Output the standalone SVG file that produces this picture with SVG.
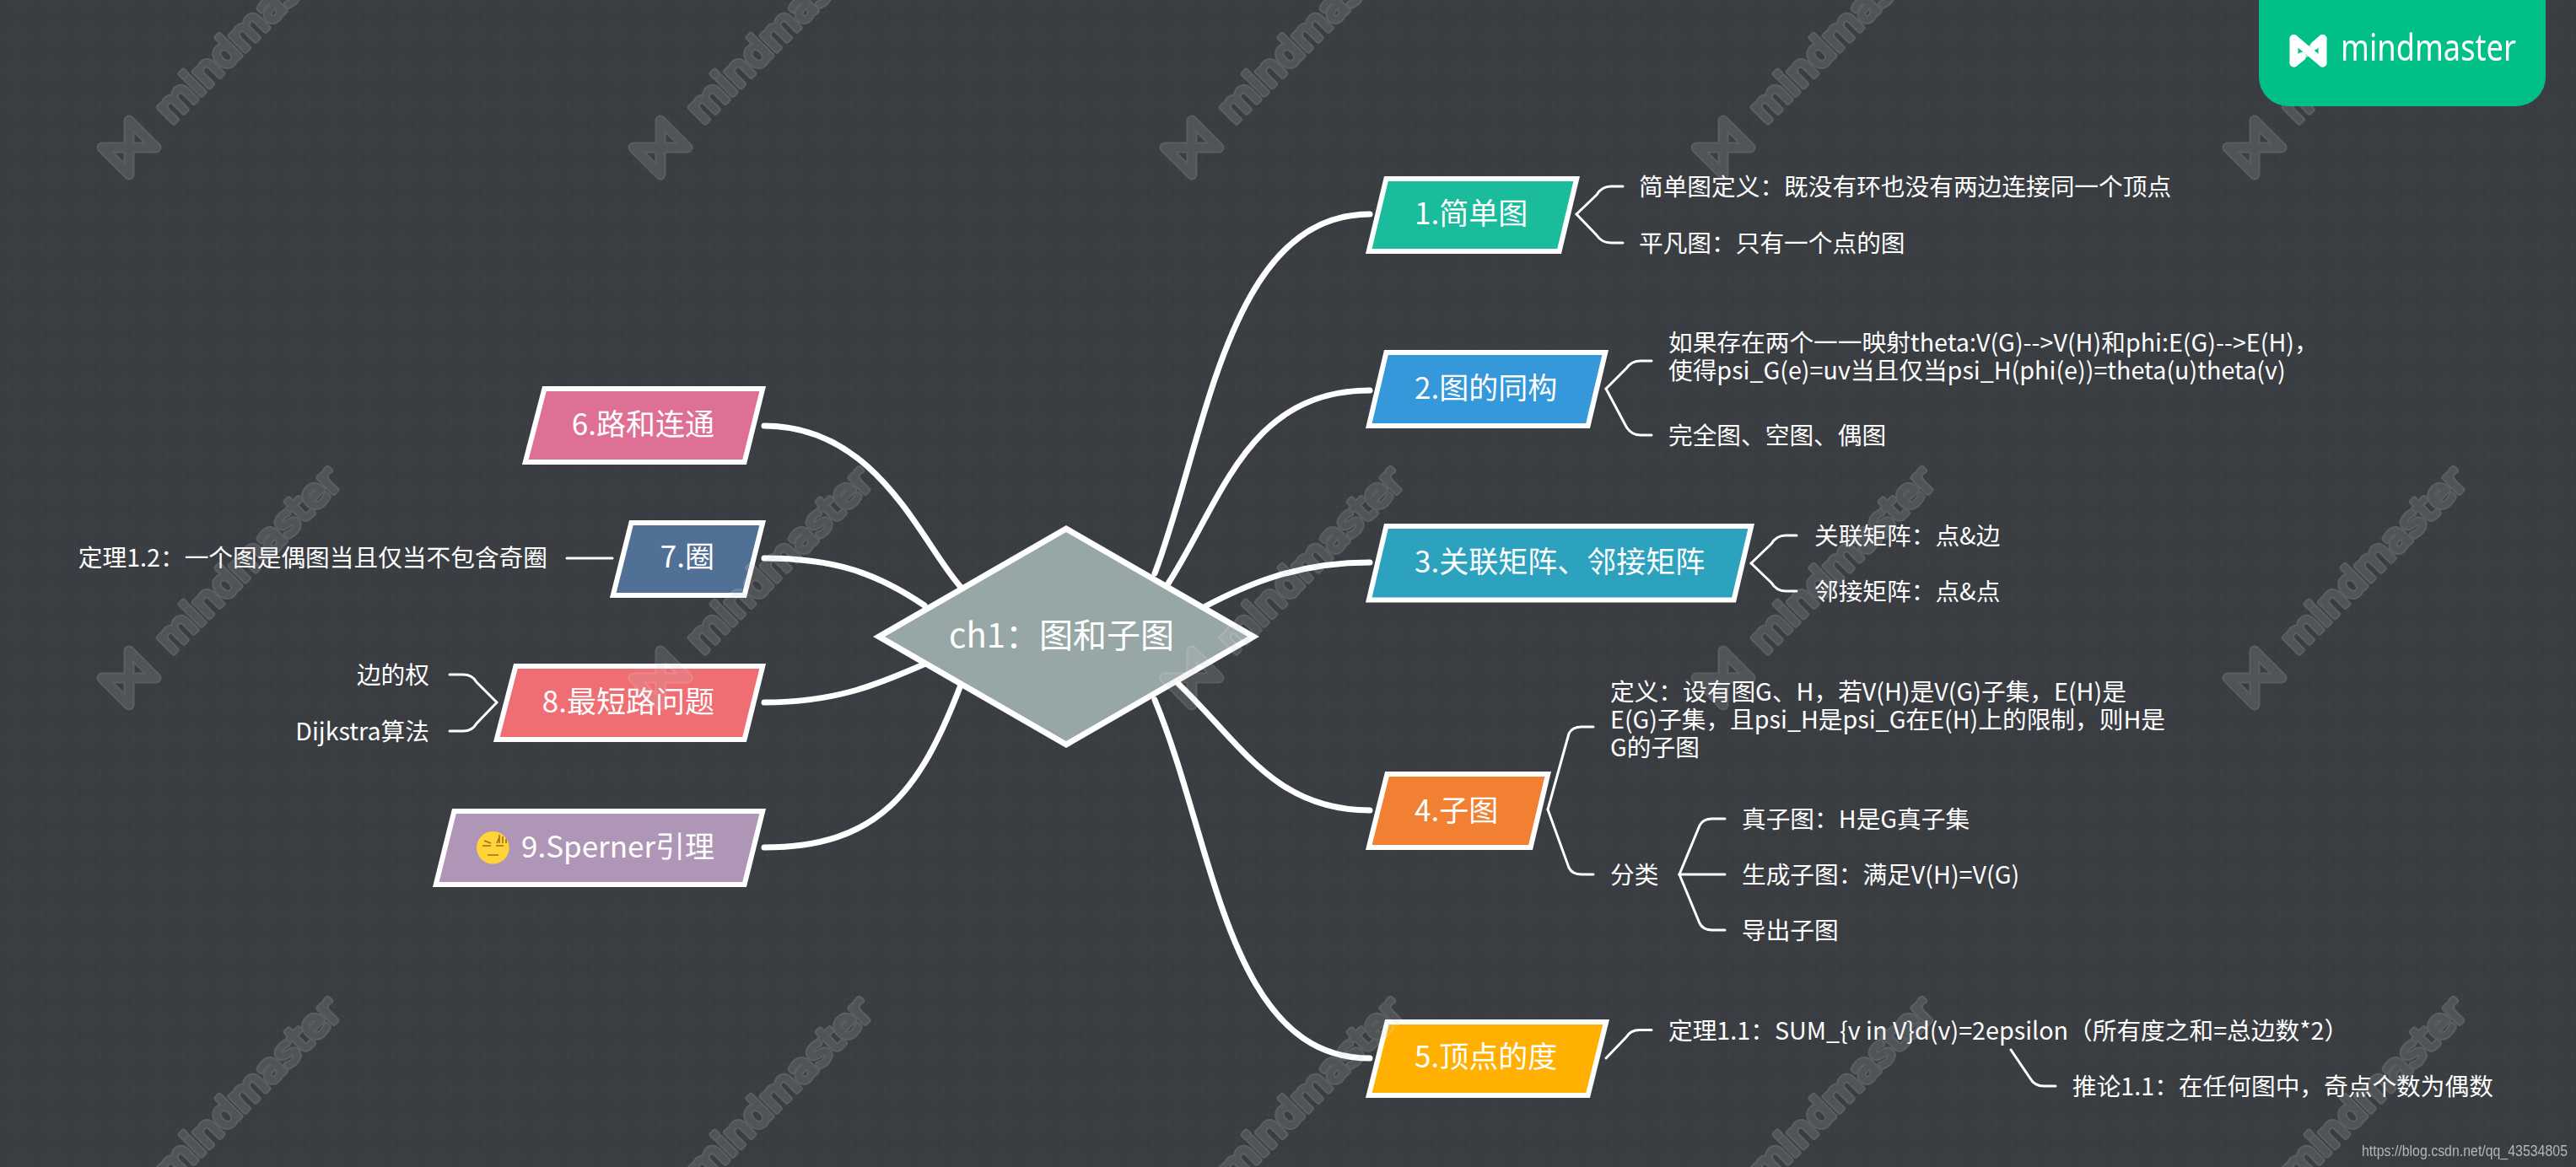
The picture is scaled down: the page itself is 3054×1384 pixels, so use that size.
<svg xmlns="http://www.w3.org/2000/svg" xmlns:xlink="http://www.w3.org/1999/xlink" width="3054" height="1384" viewBox="0 0 3054 1384">
<style>
text{font-family:"Noto Sans CJK SC","Noto Sans",sans-serif;fill:#fff;dominant-baseline:central}
.main{font-size:35px}
.sub{font-size:28.700px}
.end{text-anchor:end}
.nb{stroke:#fff;stroke-width:6;stroke-linejoin:miter}
.cm{fill:none;stroke:#fff;stroke-width:7;stroke-linecap:round}
.ct{fill:none;stroke:#fff;stroke-width:3;stroke-linecap:round;stroke-linejoin:round}
.wt{font-family:"DejaVu Sans",sans-serif;font-size:46px;dominant-baseline:alphabetic;stroke-linejoin:round}
.wto{fill:#fff;stroke:#fff;stroke-width:7}
.wti{fill:#c0c0c0;stroke:#c0c0c0;stroke-width:3}
.wml{fill:none;stroke:#c0c0c0;stroke-width:9;stroke-linejoin:round}
.wmo{fill:none;stroke:#fff;stroke-width:13;stroke-linejoin:round}
.em{stroke:#a9651f;stroke-width:1.600;fill:none}
</style>
<defs>
<pattern id="bgp" width="14" height="14" patternUnits="userSpaceOnUse" patternTransform="rotate(45)">
<rect width="14" height="14" fill="#393d41"/>
<rect width="7" height="7" fill="#3b3f43"/>
<rect x="7" y="7" width="7" height="7" fill="#3b3f43"/>
</pattern>
<g id="wm" opacity="0.17">
<path class="wmo" d="M-32,0L32,0L0,-32L0,32Z"/>
<path class="wml" d="M-32,0L32,0L0,-32L0,32Z"/>
<text class="wt wto" transform="translate(50,-27) rotate(-45)" textLength="288" lengthAdjust="spacingAndGlyphs">mindmaster</text>
<text class="wt wti" transform="translate(50,-27) rotate(-45)" textLength="288" lengthAdjust="spacingAndGlyphs">mindmaster</text>
</g>
</defs>
<rect id="background" width="3054" height="1384" fill="url(#bgp)"/>
<g id="connectors">
<path class="cm" d="M1369,680C1430,520 1455,254 1624,254"/>
<path class="cm" d="M1385,692C1450,590 1480,463 1624,463"/>
<path class="cm" d="M1429,719C1475,695 1535,667 1624,667"/>
<path class="cm" d="M1397,811C1470,880 1510,961 1624,961"/>
<path class="cm" d="M1369,830C1440,1000 1455,1255 1624,1255"/>
<path class="cm" d="M1138,695C1090,640 1040,505 906,505"/>
<path class="cm" d="M1096,718C1040,680 990,662 906,662"/>
<path class="cm" d="M1095,788C1040,812 990,833 906,833"/>
<path class="cm" d="M1138,815C1090,940 1040,1005 906,1005"/>
<path class="ct" d="M1869,254L1893,231Q1899,221 1910,221L1924,221"/>
<path class="ct" d="M1869,254L1893,279Q1899,288 1910,288L1924,288"/>
<path class="ct" d="M1904,461L1928,437Q1934,428 1945,428L1958,428"/>
<path class="ct" d="M1904,461L1928,506Q1934,516 1945,516L1958,516"/>
<path class="ct" d="M2076,668L2100,645Q2106,635 2117,635L2130,635"/>
<path class="ct" d="M2076,668L2100,691Q2106,701 2117,701L2130,701"/>
<path class="ct" d="M1835,960L1860,870Q1864,862 1875,862L1889,862"/>
<path class="ct" d="M1835,960L1860,1029Q1864,1037 1875,1037L1889,1037"/>
<path class="ct" d="M1991,1037L2015,979Q2019,971 2030,971L2045,971"/>
<path class="ct" d="M1991,1037L2045,1037"/>
<path class="ct" d="M1991,1037L2015,1095Q2019,1103 2030,1103L2045,1103"/>
<path class="ct" d="M1904,1255L1928,1230Q1933,1221.500 1944,1221.500L1958,1221.500"/>
<path class="ct" d="M2384,1245L2407,1279Q2412,1288 2423,1288L2437,1288"/>
<path class="ct" d="M672,662L726,662"/>
<path class="ct" d="M589,833L565,809Q560,800 549,800L533,800"/>
<path class="ct" d="M589,833L565,858Q560,867 549,867L533,867"/>
</g>
<g id="root">
<polygon points="1264,627 1486,755 1264,883 1042,755" fill="#97a7a5" stroke="#fff" stroke-width="7" stroke-linejoin="miter"/>
<text x="1125" y="751" style="font-size:40px">ch1：图和子图</text></g>
<g id="n1"><polygon class="nb" fill="#1abc9c" points="1643.400,212 1869.200,212 1848.600,298 1622.800,298"/><text class="main" x="1677" y="250">1.简单图</text></g>
<g id="n1a"><text class="sub" x="1943" y="219">简单图定义：既没有环也没有两边连接同一个顶点</text></g>
<g id="n1b"><text class="sub" x="1943" y="286">平凡图：只有一个点的图</text></g>
<g id="n2"><polygon class="nb" fill="#3498db" points="1643.400,418 1903.200,418 1882.600,505 1622.800,505"/><text class="main" x="1677" y="457">2.图的同构</text></g>
<g id="n2a"><text class="sub" x="1978" y="404">如果存在两个一一映射theta:V(G)--&gt;V(H)和phi:E(G)--&gt;E(H)，</text><text class="sub" x="1978" y="437">使得psi_G(e)=uv当且仅当psi_H(phi(e))=theta(u)theta(v)</text></g>
<g id="n2b"><text class="sub" x="1978" y="514">完全图、空图、偶图</text></g>
<g id="n3"><polygon class="nb" fill="#2ca2bf" points="1643.400,624 2076.200,624 2055.600,711.500 1622.800,711.500"/><text class="main" x="1677" y="663">3.关联矩阵、邻接矩阵</text></g>
<g id="n3a"><text class="sub" x="2151" y="633">关联矩阵：点&amp;边</text></g>
<g id="n3b"><text class="sub" x="2151" y="699">邻接矩阵：点&amp;点</text></g>
<g id="n4"><polygon class="nb" fill="#f18033" points="1644.400,918 1835.200,918 1814.600,1005 1622.800,1005"/><text class="main" x="1677" y="958">4.子图</text></g>
<g id="n4a"><text class="sub" x="1909" y="818">定义：设有图G、H，若V(H)是V(G)子集，E(H)是</text><text class="sub" x="1909" y="851">E(G)子集，且psi_H是psi_G在E(H)上的限制，则H是</text><text class="sub" x="1909" y="884">G的子图</text></g>
<g id="n4b"><text class="sub" x="1909" y="1035">分类</text></g>
<g id="n4b1"><text class="sub" x="2065" y="969">真子图：H是G真子集</text></g>
<g id="n4b2"><text class="sub" x="2065" y="1035">生成子图：满足V(H)=V(G)</text></g>
<g id="n4b3"><text class="sub" x="2065" y="1101">导出子图</text></g>
<g id="n5"><polygon class="nb" fill="#ffb000" points="1644.400,1212 1904.200,1212 1882.600,1299 1622.800,1299"/><text class="main" x="1677" y="1250">5.顶点的度</text></g>
<g id="n5a"><text class="sub" x="1978" y="1220">定理1.1：SUM_{v in V}d(v)=2epsilon（所有度之和=总边数*2）</text></g>
<g id="n5b"><text class="sub" x="2457" y="1286">推论1.1：在任何图中，奇点个数为偶数</text></g>
<g id="n6"><polygon class="nb" fill="#de7095" points="645.400,461 904.200,461 882.600,548 622.800,548"/><text class="main end" x="847" y="500">6.路和连通</text></g>
<g id="n7"><polygon class="nb" fill="#517096" points="748.400,620 904.200,620 882.600,706 726.800,706"/><text class="main end" x="847" y="657">7.圈</text></g>
<g id="n7a"><text class="sub end" x="649" y="659">定理1.2：一个图是偶图当且仅当不包含奇圈</text></g>
<g id="n8"><polygon class="nb" fill="#ee6e73" points="611.400,790 904.200,790 882.600,877 588.800,877"/><text class="main end" x="847" y="829">8.最短路问题</text></g>
<g id="n8a"><text class="sub end" x="509" y="798">边的权</text></g>
<g id="n8b"><text class="sub end" x="509" y="865">Dijkstra算法</text></g>
<g id="n9"><polygon class="nb" fill="#b096b6" points="538.400,962 904.200,962 882.600,1049 516.800,1049"/>
<circle cx="584.300" cy="1005.300" r="19.300" fill="#ffd43b"/>
<path class="em" d="M572,1003H582M574,997L582,1000M588,1003H597M578,1014H591M592,1000V990M596,1000V992M589,1000L592,993M600,1000V995"/>
<text class="main end" x="847" y="1001">9.Sperner引理</text></g>
<g id="watermarks">
<use xlink:href="#wm" x="153" y="175"/><use xlink:href="#wm" x="783" y="175"/><use xlink:href="#wm" x="1413" y="175"/><use xlink:href="#wm" x="2043" y="175"/><use xlink:href="#wm" x="2673" y="175"/>
<use xlink:href="#wm" x="153" y="804"/><use xlink:href="#wm" x="783" y="804"/><use xlink:href="#wm" x="1413" y="804"/><use xlink:href="#wm" x="2043" y="804"/><use xlink:href="#wm" x="2673" y="804"/>
<use xlink:href="#wm" x="153" y="1433"/><use xlink:href="#wm" x="783" y="1433"/><use xlink:href="#wm" x="1413" y="1433"/><use xlink:href="#wm" x="2043" y="1433"/><use xlink:href="#wm" x="2673" y="1433"/>
</g>
<g id="banner">
<path d="M2678,0H3018V91A35,35 0 0 1 2983,126H2713A35,35 0 0 1 2678,91Z" fill="#00bf87"/>
<path d="M2719.500,46L2753.500,74.500" fill="none" stroke="#fff" stroke-width="10" stroke-linecap="round"/>
<path d="M2719.500,46V74.500M2753.500,46V74.500" fill="none" stroke="#fff" stroke-width="10" stroke-linecap="round"/>
<path d="M2719.500,74.500L2729,67M2753.500,46L2744,54" fill="none" stroke="#fff" stroke-width="10" stroke-linecap="round"/>
<path d="M2732,65L2742,56" fill="none" stroke="#fff" stroke-opacity="0.55" stroke-width="9"/>
<text x="2775" y="72" textLength="208" lengthAdjust="spacingAndGlyphs" style="font-family:'Noto Sans',sans-serif;font-size:43px;dominant-baseline:alphabetic">mindmaster</text>
</g>
<text id="url" x="2800" y="1365" textLength="244" lengthAdjust="spacingAndGlyphs" style="font-family:'Liberation Sans',sans-serif;font-size:18px;fill:#b4b6b8">https://blog.csdn.net/qq_43534805</text>
</svg>
